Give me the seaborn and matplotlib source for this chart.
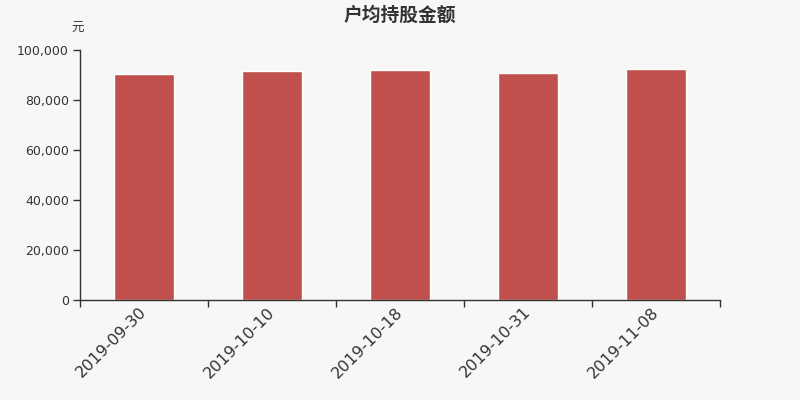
import matplotlib
matplotlib.use('Agg')
import matplotlib.pyplot as plt
import matplotlib.ticker as mticker
import seaborn as sns
import pandas as pd
import numpy as np

dates = ['2019-09-30', '2019-10-10', '2019-10-18', '2019-10-31', '2019-11-08']
amount = [90300, 91600, 92000, 90800, 92300]

sns.set_style('white')
plt.rcParams['font.family'] = ['DejaVu Sans', 'Noto Sans CJK SC']

bg = '#f7f7f7'
fig = plt.figure(figsize=(8, 4), dpi=100, facecolor=bg)
ax = fig.add_axes([0.1, 0.25, 0.8, 0.625], facecolor=bg)

df = pd.DataFrame({'date': dates, 'amount': amount})
sns.barplot(data=df, x='date', y='amount', color='#c0504d', saturation=1, width=0.47, ax=ax)

ax.set_xlim(-0.5, len(dates) - 0.5)
ax.set_ylim(0, 100000)
ax.set_yticks(np.arange(0, 100001, 20000))
ax.yaxis.set_major_formatter(mticker.FuncFormatter(lambda v, p: f'{int(v):,}'))
ax.set_xlabel('')
ax.set_ylabel('')

for s in ['top', 'right']:
    ax.spines[s].set_visible(False)
for s in ['left', 'bottom']:
    ax.spines[s].set_color('#333333')
    ax.spines[s].set_linewidth(1)

ax.set_xticks(np.arange(len(dates)))
ax.set_xticklabels(dates, rotation=45, ha='right', va='center', rotation_mode='anchor',
                   fontsize=11.5, color='#333333')
ax.set_xticks(np.arange(-0.5, len(dates)), minor=True)
ax.tick_params(axis='x', which='major', bottom=True, length=0, pad=7)
ax.tick_params(axis='x', which='minor', bottom=True, length=5, color='#333333', width=1)
ax.tick_params(axis='y', left=True, length=5, color='#333333', width=1, labelsize=9,
               labelcolor='#333333', pad=3)

fig.text(0.5, 0.963, '户均持股金额', ha='center', va='center', fontsize=13.5,
         fontweight='bold', color='#333333', family='Noto Sans CJK SC')
fig.text(0.097, 0.928, '元', ha='center', va='center', fontsize=9, color='#333333',
         family='Noto Sans CJK SC')

fig.savefig('out.png', dpi=100, facecolor=bg)
